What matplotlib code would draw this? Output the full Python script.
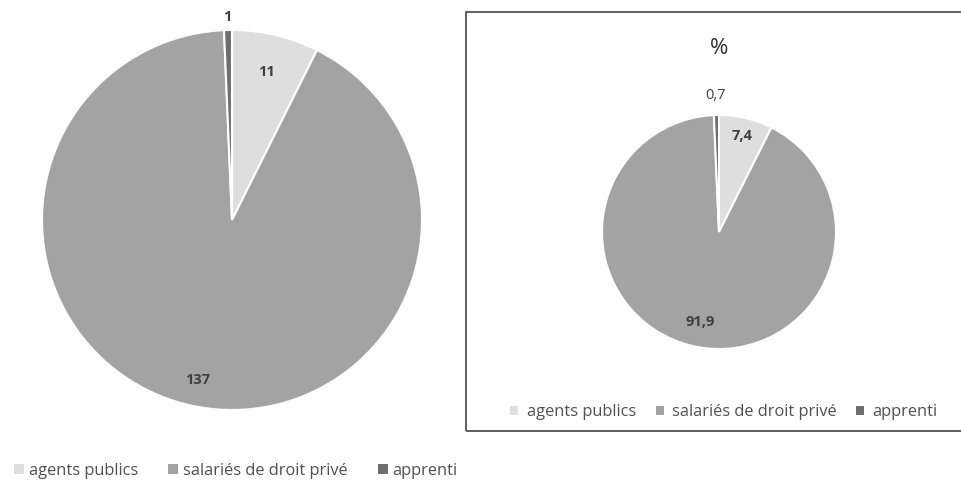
import numpy as np
import matplotlib
matplotlib.use('Agg')
import matplotlib.pyplot as plt
from matplotlib.patches import Rectangle, Patch

plt.rcParams['font.family'] = ['Open Sans', 'DejaVu Sans']

categories = ['agents publics', 'salariés de droit privé', 'apprenti']
counts = [11, 137, 1]
percents = [7.4, 91.9, 0.7]
count_labels = ['11', '137', '1']
pct_labels = ['7,4', '91,9', '0,7']
colors = ['#dedede', '#a3a3a3', '#6e6e6e']

W, H = 962, 494
fig = plt.figure(figsize=(W / 100, H / 100), dpi=100)


def pie_axes(cx, cy, r):
    # pixel center/radius -> axes rect
    return fig.add_axes([(cx - r) / W, (H - cy - r) / H, 2 * r / W, 2 * r / H])


def draw_pie(ax, values, labels, dists, weights, fs):
    wedges, _ = ax.pie(values, colors=colors, startangle=90, counterclock=False,
                       wedgeprops=dict(edgecolor='white', linewidth=1.5))
    for w, lab, d, fw in zip(wedges, labels, dists, weights):
        ang = np.deg2rad((w.theta1 + w.theta2) / 2)
        ax.text(d * np.cos(ang), d * np.sin(ang), lab, ha='center', va='center',
                fontsize=fs, color='#404040', fontweight=fw)
    ax.set_xlim(-1, 1)
    ax.set_ylim(-1, 1)
    ax.set_aspect('equal')
    ax.axis('off')


# left pie (counts)
ax1 = pie_axes(232, 220, 190)
draw_pie(ax1, counts, count_labels, [0.80, 0.86, 1.07], ['bold'] * 3, 10.5)

# frame around right chart
fig.patches.append(Rectangle((466 / W, (H - 431) / H), (W - 466 + 5) / W, (431 - 12) / H,
                             transform=fig.transFigure, fill=False,
                             edgecolor='#505050', linewidth=1.3))

# right pie (percent)
ax2 = pie_axes(719, 232, 117)
draw_pie(ax2, percents, pct_labels, [0.84, 0.79, 1.17], ['bold', 'bold', 'normal'], 10.5)
fig.text(719 / W, 1 - 48 / H, '%', ha='center', va='center', fontsize=16, color='#303030')

handles = [Patch(facecolor=c, edgecolor='none') for c in colors]

fig.legend(handles, categories, loc='center left', bbox_to_anchor=(-0.001, 1 - 471 / H),
           ncol=3, frameon=False, fontsize=11.8, handlelength=0.6, handleheight=0.6,
           handletextpad=0.3, columnspacing=1.85, labelcolor='#505050')
fig.legend(handles, categories, loc='center', bbox_to_anchor=(724 / W, 1 - 412 / H),
           ncol=3, frameon=False, fontsize=11.8, handlelength=0.5, handleheight=0.5,
           handletextpad=0.5, columnspacing=1.2, labelcolor='#505050')

fig.savefig('out.png', dpi=100)
